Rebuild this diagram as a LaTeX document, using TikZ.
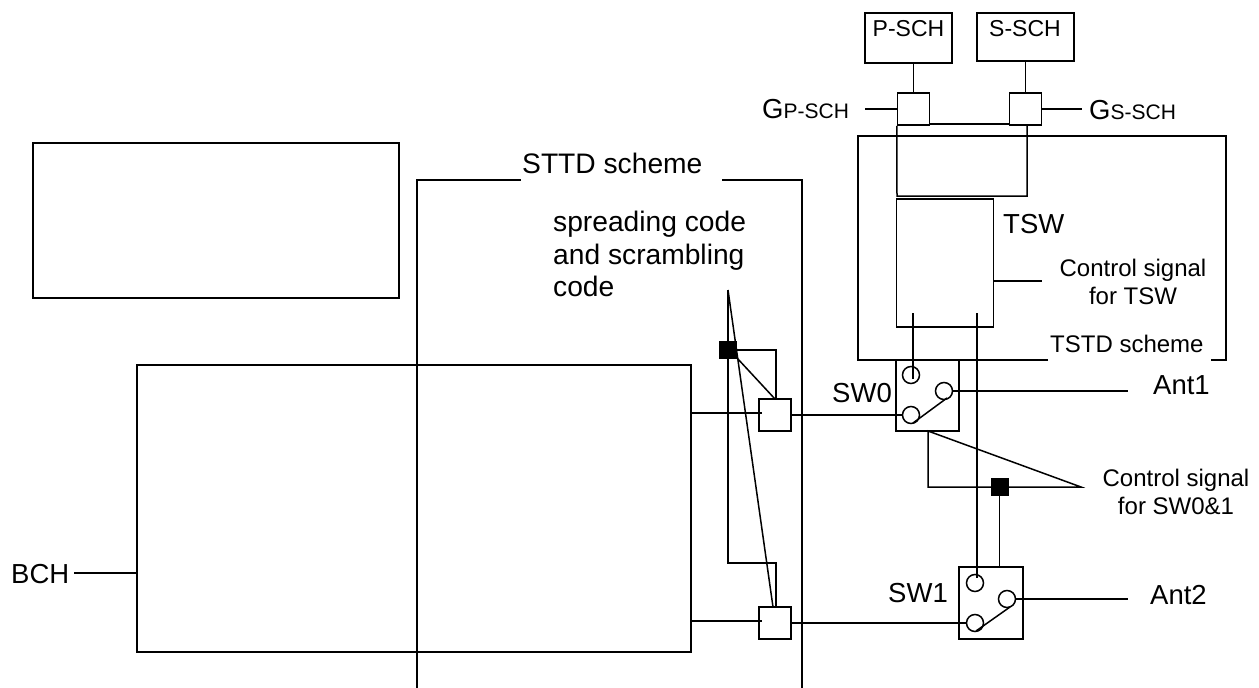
\documentclass[tikz,border=0pt]{standalone}
\usepackage{fontspec}
\setmainfont{Liberation Sans}
\tikzset{
  wire/.style={line width=1.5pt},
  blockbox/.style={draw, line width=1.5pt, minimum width=32pt, minimum height=32pt, inner sep=0pt},
  dotbox/.style={draw, fill=black, minimum width=17pt, minimum height=17pt, inner sep=0pt},
  contact/.style={draw, circle, line width=1.5pt, minimum size=17pt, inner sep=0pt},
  bigtxt/.style={font=\fontsize{27.5}{32.5}\selectfont, inner sep=0pt, anchor=base west, align=left},
  schemetxt/.style={bigtxt, font=\fontsize{28.2}{32.5}\selectfont},
  boxtxt/.style={font=\fontsize{23}{26}\selectfont, inner sep=0pt, anchor=base},
  midtxt/.style={font=\fontsize{24}{28}\selectfont, inner sep=0pt, align=center},
}
\newcommand{\subsch}[1]{{\fontsize{21}{24}\selectfont #1}}
\begin{document}
\begin{tikzpicture}[x=1pt,y=-1pt]
\useasboundingbox (0,0) rectangle (1259,688);
% code generators
\node[blockbox, minimum width=87pt, minimum height=50pt] (psch) at (908.5,38) {};
\node[blockbox, minimum width=97pt, minimum height=48pt] (ssch) at (1025.5,37) {};
\node[boxtxt] (pschtxt) at (908.5,36) {P-SCH};
\node[boxtxt] (sschtxt) at (1025,36) {S-SCH};
\node[blockbox] (gp) at (913.5,109) {};
\node[blockbox] (gs) at (1025.5,109) {};
\draw[wire] (gp.north |- psch.south) -- (gp.north);
\draw[wire] (ssch.south) -- (gs.north);
\coordinate (gpin) at (865,109);
\coordinate (gsout) at (1082,109);
\draw[wire] (gpin) -- (gp.west);
\draw[wire] (gs.east) -- (gsout);
\node[bigtxt] (gplabel) at (762,118) {G\subsch{P-SCH}};
\node[bigtxt] (gslabel) at (1089,119) {G\subsch{S-SCH}};
\draw[wire] (930,124) -- (1009,124);
\draw[wire] (gp.south west) -- (897,196) -- (1027,196) -- (1027,125);
% TSTD frame
\draw[wire] (1048,360) -- (858,360) -- (858,136) -- (1226,136) -- (1226,360) -- (1211,360);
\node[midtxt, anchor=base west] (tstd) at (1050,352) {TSTD scheme};
% TSW
\node[blockbox, minimum width=97pt, minimum height=128pt] (tsw) at (945,263) {};
\node[bigtxt] (tswtxt) at (1003,233) {TSW};
\coordinate (tswctl) at (1042,281);
\draw[wire] (tsw.east |- tswctl) -- (tswctl);
\node[midtxt] (tswsig) at (1133,282) {Control signal\\for TSW};
% switches
\node[blockbox, minimum width=63pt, minimum height=71pt] (sw0) at (927.5,395.5) {};
\node[blockbox, minimum width=64pt, minimum height=72pt] (sw1) at (991,603) {};
\node[bigtxt] (sw0txt) at (832,402) {SW0};
\node[bigtxt] (sw1txt) at (888,602) {SW1};
\node[contact] (a0) at (911,375) {};
\node[contact] (b0) at (944,391) {};
\node[contact] (c0) at (911,415) {};
\node[contact] (a1) at (975,583) {};
\node[contact] (b1) at (1007,599) {};
\node[contact] (c1) at (975,623) {};
\draw[wire] (913,423) -- (947,398);
\draw[wire] (976,631) -- (1010,607);
\coordinate (ant0) at (1128,391);
\coordinate (ant1) at (1128,599);
\draw[wire] (b0.east) -- (ant0);
\draw[wire] (b1.east) -- (ant1);
\node[bigtxt] (ant0txt) at (1153,394) {Ant1};
\node[bigtxt] (ant1txt) at (1150,604) {Ant2};
\draw[wire] (913,313) -- (913,379);
\draw[wire] (977,313) -- (977,578);
% switch control
\node[dotbox] (ctl) at (999.5,487) {};
\draw[wire] (ctl.south) -- (ctl.south |- sw1.north);
\coordinate (ctlend) at (1081,487);
\draw[wire] (928,431) -- (928,487) -- (ctlend) -- cycle;
\node[midtxt] (ctlsig) at (1176,492) {Control signal\\for SW0\&1};
% STTD frame
\draw[wire] (417,688) -- (417,180) -- (521,180);
\draw[wire] (722,180) -- (802,180) -- (802,688);
\node[schemetxt] (sttd) at (522,173) {STTD scheme};
\node[schemetxt, anchor=north west] (codetxt) at (553,211) {spreading code\\and scrambling\\code};
% upper empty block and encoder
\node[blockbox, minimum width=366pt, minimum height=155pt] (upper) at (216,220.5) {};
\node[blockbox, minimum width=554pt, minimum height=287pt] (encoder) at (414,508.5) {};
\coordinate (bchin) at (74,573);
\draw[wire] (bchin) -- (bchin -| encoder.west);
\node[bigtxt] (bch) at (11,583) {BCH};
% multipliers
\node[blockbox] (m0) at (775,415) {};
\node[blockbox] (m1) at (775,623) {};
\draw[wire] (691,413) -- (762,413);
\draw[wire] (691,621) -- (762,621);
\draw[wire] (m0.east) -- (c0.west);
\draw[wire] (m1.east) -- (c1.west);
% code lines
\node[dotbox] (mark) at (728,350) {};
\coordinate (codetop) at (728,290);
\draw[wire] (codetop) -- (728,563) -- (776,563) -- (776,607);
\draw[wire] (codetop) -- (773,607);
\draw[wire] (mark.east) -- (776,350) -- (776,399);
\draw[wire] (737,358) -- (775,399);
\end{tikzpicture}
\end{document}
